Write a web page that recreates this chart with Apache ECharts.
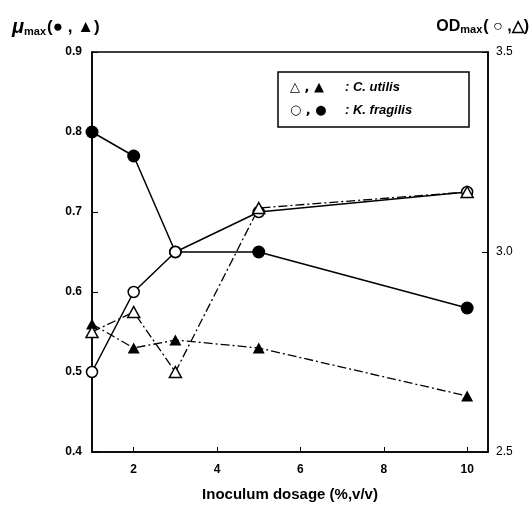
<!DOCTYPE html>
<html><head><meta charset="utf-8">
<script src="https://cdn.jsdelivr.net/npm/echarts@6/dist/echarts.min.js"></script>
<style>html,body{margin:0;padding:0;background:#fff}#c{width:532px;height:510px}</style>
</head><body><div id="c"></div>
<script>
const dosage = [1, 2, 3, 5, 10];
const kfMu = [0.80, 0.77, 0.65, 0.65, 0.58];
const cuMu = [0.56, 0.53, 0.54, 0.53, 0.47];
const kfOD = [2.70, 2.90, 3.00, 3.10, 3.15];
const cuOD = [2.80, 2.85, 2.70, 3.11, 3.15];
const xTicks = [2, 4, 6, 8, 10];

const F = 'Liberation Sans, Arial, sans-serif';
const pairs = (xs, ys) => xs.map((x, i) => [x, ys[i]]);
const dashDot = [9, 3, 2, 3];
const tri = 'path://M0,10 L5,0 L10,10 Z';

const chart = echarts.init(document.getElementById('c'));
chart.setOption({
  animation: false,
  backgroundColor: '#fff',
  grid: {left: 92, right: 44, top: 52, bottom: 58, show: true, borderColor: '#000', borderWidth: 1.5},
  xAxis: {
    type: 'value', min: 1, max: 10.5,
    name: 'Inoculum dosage (%,v/v)', nameLocation: 'middle', nameGap: 35,
    nameTextStyle: {fontFamily: F, fontWeight: 'bold', fontSize: 15, color: '#000'},
    axisLine: {lineStyle: {color: '#000', width: 1.5}},
    axisTick: {inside: true, length: 5, customValues: xTicks, lineStyle: {color: '#000'}},
    axisLabel: {customValues: xTicks, fontFamily: F, fontWeight: 'bold', fontSize: 12, color: '#000', margin: 12},
    splitLine: {show: false}
  },
  yAxis: [{
    type: 'value', min: 0.4, max: 0.9, interval: 0.1, position: 'left',
    axisLine: {show: true, lineStyle: {color: '#000', width: 1.5}},
    axisTick: {inside: true, length: 6, lineStyle: {color: '#000'}},
    axisLabel: {fontFamily: F, fontWeight: 'bold', fontSize: 12, color: '#000', margin: 10, formatter: v => v.toFixed(1)},
    splitLine: {show: false}
  }, {
    type: 'value', min: 2.5, max: 3.5, interval: 0.5, position: 'right',
    axisLine: {show: true, lineStyle: {color: '#000', width: 1.5}},
    axisTick: {inside: true, length: 6, lineStyle: {color: '#000'}},
    axisLabel: {fontFamily: F, fontSize: 12, color: '#000', margin: 8, formatter: v => v.toFixed(1)},
    splitLine: {show: false}
  }],
  series: [
    {type: 'line', name: 'K. fragilis μmax', yAxisIndex: 0, data: pairs(dosage, kfMu), clip: false,
     symbol: 'circle', symbolSize: 13, itemStyle: {color: '#000'},
     lineStyle: {color: '#000', width: 1.5}},
    {type: 'line', name: 'C. utilis μmax', yAxisIndex: 0, data: pairs(dosage, cuMu), clip: false,
     symbol: tri, symbolSize: [12, 11], itemStyle: {color: '#000'},
     lineStyle: {color: '#000', width: 1.3, type: dashDot}},
    {type: 'line', name: 'K. fragilis OD', yAxisIndex: 1, data: pairs(dosage, kfOD), clip: false,
     symbol: 'circle', symbolSize: 11, itemStyle: {color: '#fff', borderColor: '#000', borderWidth: 1.5},
     lineStyle: {color: '#000', width: 1.5}},
    {type: 'line', name: 'C. utilis OD', yAxisIndex: 1, data: pairs(dosage, cuOD), clip: false,
     symbol: tri, symbolSize: [12, 11], itemStyle: {color: '#fff', borderColor: '#000', borderWidth: 1.5},
     lineStyle: {color: '#000', width: 1.3, type: dashDot}}
  ],
  graphic: [
    {type: 'text', left: 12, top: 17, style: {
      text: '{mu|μ}{sub|max}{p|(● , ▲)}',
      rich: {
        mu: {fontFamily: F, fontWeight: 'bold', fontStyle: 'italic', fontSize: 20, fill: '#000'},
        sub: {fontFamily: F, fontWeight: 'bold', fontSize: 11, fill: '#000', verticalAlign: 'bottom', padding: [6, 1, 0, 0]},
        p: {fontFamily: F, fontWeight: 'bold', fontSize: 17, fill: '#000'}
      }}},
    {type: 'text', right: 3, top: 19, style: {
      text: '{od|OD}{sub|max}{p|( ○ ,△)}',
      rich: {
        od: {fontFamily: F, fontWeight: 'bold', fontSize: 16, fill: '#000'},
        sub: {fontFamily: F, fontWeight: 'bold', fontSize: 11, fill: '#000', verticalAlign: 'bottom', padding: [5, 1, 0, 0]},
        p: {fontFamily: F, fontWeight: 'bold', fontSize: 16, fill: '#000'}
      }}},
    {type: 'rect', shape: {x: 278, y: 72, width: 191, height: 55},
     style: {fill: '#fff', stroke: '#000', lineWidth: 1.5}},
    {type: 'text', x: 290, y: 81, style: {text: '△ , ▲', fontFamily: 'DejaVu Sans', fontWeight: 'bold', fontSize: 13, fill: '#000'}},
    {type: 'text', x: 345, y: 81, style: {text: ': C. utilis', fontFamily: F, fontWeight: 'bold', fontStyle: 'italic', fontSize: 13, fill: '#000'}},
    {type: 'text', x: 290, y: 104, style: {text: '○ , ●', fontFamily: 'DejaVu Sans', fontWeight: 'bold', fontSize: 13, fill: '#000'}},
    {type: 'text', x: 345, y: 104, style: {text: ': K. fragilis', fontFamily: F, fontWeight: 'bold', fontStyle: 'italic', fontSize: 13, fill: '#000'}}
  ]
});
</script></body></html>
